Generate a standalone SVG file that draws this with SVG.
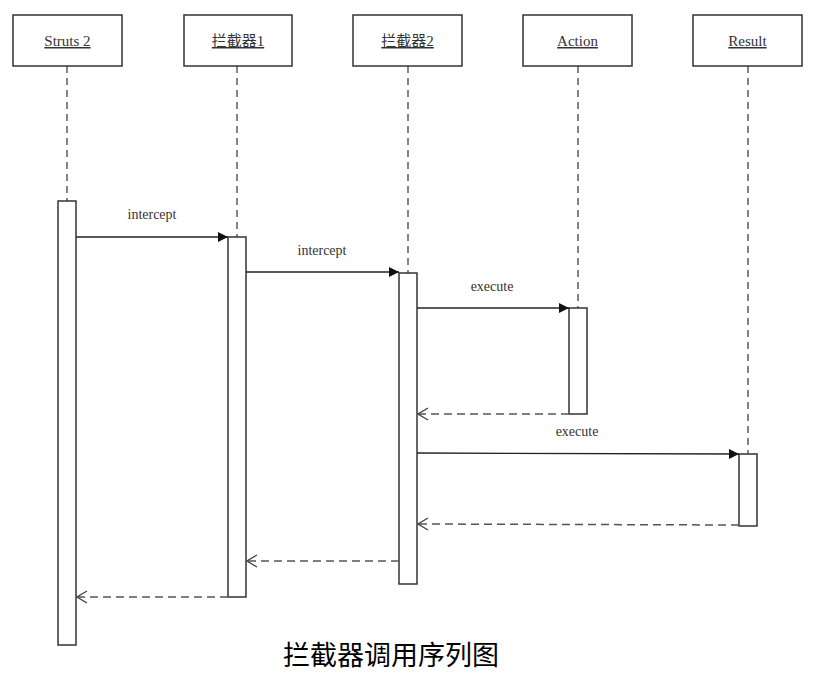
<svg xmlns="http://www.w3.org/2000/svg" width="836" height="688" viewBox="0 0 836 688">
<style>
.hdr{fill:#fff;stroke:#333;stroke-width:1.5}
.ht{font-family:"Liberation Serif","Noto Sans CJK SC",serif;font-size:15px;fill:#333;text-anchor:middle;text-decoration:underline}
.life{stroke:#444;stroke-width:1.3;stroke-dasharray:7,5;fill:none}
.act{fill:#fff;stroke:#333;stroke-width:1.5}
.msg{stroke:#222;stroke-width:1.3;fill:none}
.ret{stroke:#555;stroke-width:1.5;stroke-dasharray:8,5;fill:none}
.lbl{font-family:"Liberation Serif",serif;font-size:14px;fill:#333;text-anchor:middle}
.cap{font-family:"Noto Sans CJK SC","Liberation Sans",sans-serif;font-size:27px;fill:#000;text-anchor:middle}
</style>
<defs>
<marker id="fill" viewBox="0 0 10 10" refX="10" refY="5" markerWidth="10" markerHeight="10" markerUnits="userSpaceOnUse" orient="auto"><path d="M0,0 L10,5 L0,10 z" fill="#111"/></marker>
<marker id="open" viewBox="-1 -1 12 14" refX="10" refY="6" markerWidth="12" markerHeight="14" markerUnits="userSpaceOnUse" orient="auto"><path d="M0,0 L10,6 L0,12" fill="none" stroke="#444" stroke-width="1.3"/></marker>
</defs>
<g id="lifelines">
<line class="life" x1="67" y1="66" x2="67" y2="201"/>
<line class="life" x1="237" y1="66" x2="237" y2="237"/>
<line class="life" x1="408" y1="66" x2="408" y2="273"/>
<line class="life" x1="578" y1="66" x2="578" y2="308"/>
<line class="life" x1="748" y1="66" x2="748" y2="454"/>
</g>
<g id="struts2"><rect class="hdr" x="13" y="15" width="109" height="51"/><text class="ht" x="67.5" y="46">Struts 2</text><rect class="act" x="58" y="201" width="18" height="444"/></g>
<g id="interceptor1"><rect class="hdr" x="184" y="15" width="108" height="51"/><text class="ht" x="238" y="46">拦截器1</text><rect class="act" x="228" y="237" width="18" height="360"/></g>
<g id="interceptor2"><rect class="hdr" x="353" y="15" width="109" height="51"/><text class="ht" x="407.5" y="46">拦截器2</text><rect class="act" x="399" y="273" width="18" height="311"/></g>
<g id="action"><rect class="hdr" x="523" y="15" width="109" height="51"/><text class="ht" x="577.5" y="46">Action</text><rect class="act" x="569" y="308" width="18" height="106"/></g>
<g id="result"><rect class="hdr" x="693" y="15" width="109" height="51"/><text class="ht" x="747.5" y="46">Result</text><rect class="act" x="739" y="454" width="18" height="72"/></g>
<g id="connectors">
<line class="msg" x1="76" y1="237" x2="228" y2="237" marker-end="url(#fill)"/>
<text class="lbl" x="152" y="219">intercept</text>
<line class="msg" x1="246" y1="272" x2="399" y2="272" marker-end="url(#fill)"/>
<text class="lbl" x="322" y="255">intercept</text>
<line class="msg" x1="417" y1="308" x2="569" y2="308" marker-end="url(#fill)"/>
<text class="lbl" x="492" y="291">execute</text>
<line class="ret" x1="569" y1="414" x2="418" y2="414" marker-end="url(#open)"/>
<line class="msg" x1="417" y1="453" x2="739" y2="454" marker-end="url(#fill)"/>
<text class="lbl" x="577" y="436">execute</text>
<line class="ret" x1="739" y1="525" x2="418" y2="524" marker-end="url(#open)"/>
<line class="ret" x1="399" y1="561" x2="247" y2="561" marker-end="url(#open)"/>
<line class="ret" x1="228" y1="597" x2="77" y2="597" marker-end="url(#open)"/>
</g>
<text class="cap" x="391" y="665">拦截器调用序列图</text>
</svg>
